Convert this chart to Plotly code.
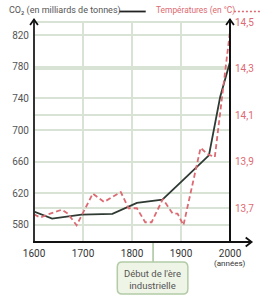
import plotly.graph_objects as go

# ---- data ----
co2_years = [1600, 1637, 1697, 1760, 1810, 1862, 1903, 1957, 1980, 2000]
co2_values = [597, 588, 593, 594, 608, 612, 636, 668, 742, 786]

temp_years = [1600, 1613, 1633, 1657, 1669, 1687, 1720, 1743, 1777, 1793, 1810,
              1827, 1840, 1863, 1883, 1893, 1905, 1940, 1953, 1969, 2000]
temp_values = [13.674, 13.66, 13.677, 13.694, 13.677, 13.627, 13.763, 13.727, 13.77, 13.70, 13.70,
               13.64, 13.64, 13.74, 13.677, 13.677, 13.627, 13.96, 13.934, 13.92, 14.46]

x_ticks = [1600, 1700, 1800, 1900, 2000]
co2_ticks = [580, 620, 660, 700, 740, 780, 820]
temp_ticks = [13.7, 13.9, 14.1, 14.3, 14.5]

co2_label = "CO₂ (en milliards de tonnes)"
temp_label = "Températures (en °C)"
unit_label = "(années)"
box_label = "Début de l'ère<br>industrielle"
event_year = 1843

# ---- layout geometry (pixels) ----
W, H = 273, 300
L, R, T, B = 30, 43, 21, 58
PW, PH = W - L - R, H - T - B


def px(x):
    return (x - L) / PW


def py(y):
    return (H - B - y) / PH


DARK = "#2f3a33"
PINK = "#dc6a72"
GRID = "#d8e3d6"
FONT = "Roboto"

fig = go.Figure()
fig.add_trace(go.Scatter(x=co2_years, y=co2_values, mode="lines",
                         line=dict(color=DARK, width=1.8), yaxis="y", showlegend=False))
fig.add_trace(go.Scatter(x=temp_years, y=temp_values, mode="lines",
                         line=dict(color=PINK, width=1.8, dash="5px,3px"), yaxis="y2", showlegend=False))

fig.update_layout(
    width=W, height=H,
    margin=dict(l=L, r=R, t=T, b=B),
    plot_bgcolor="white", paper_bgcolor="white",
    separators=", ",
    font=dict(family=FONT, size=10, color="#555"),
    xaxis=dict(range=[1600, 2000], tickvals=x_ticks, ticktext=[str(v) for v in x_ticks],
               showgrid=True, gridcolor=GRID, gridwidth=1.5, zeroline=False, showline=False,
               tickfont=dict(size=10, color="#333"), ticks="", ticklabelstandoff=4),
    yaxis=dict(range=[558.5, 837.7], tickvals=co2_ticks, showgrid=True, gridcolor=GRID, gridwidth=1.5,
               zeroline=False, showline=False, ticks="", tickfont=dict(size=10, color="#555"),
               ticklabelstandoff=4),
    yaxis2=dict(range=[13.555, 14.505], tickvals=temp_ticks, tickformat=".1f", overlaying="y", side="right",
                showgrid=True, gridcolor=GRID, gridwidth=1.5, zeroline=False, showline=False, ticks="",
                tickfont=dict(size=10, color=PINK), ticklabelstandoff=4),
)

shapes = []
# axes lines
shapes.append(dict(type="line", xref="paper", yref="paper", x0=px(30), x1=px(30), y0=py(242), y1=py(19),
                   line=dict(color="#333", width=2)))
shapes.append(dict(type="line", xref="paper", yref="paper", x0=px(230), x1=px(230), y0=py(242), y1=py(19),
                   line=dict(color="#111", width=2)))
shapes.append(dict(type="line", xref="paper", yref="paper", x0=px(29), x1=px(251), y0=py(242), y1=py(242),
                   line=dict(color="#111", width=2)))
# arrowheads
for ax in (30, 230):
    shapes.append(dict(type="path", xref="paper", yref="paper",
                       path=f"M {px(ax-4)},{py(25)} L {px(ax)},{py(19.5)} L {px(ax+4)},{py(25)}",
                       line=dict(color="#111", width=1.8)))
shapes.append(dict(type="path", xref="paper", yref="paper",
                   path=f"M {px(246)},{py(237.5)} L {px(252)},{py(242)} L {px(246)},{py(246.5)}",
                   line=dict(color="#111", width=1.8)))
# legend line samples
shapes.append(dict(type="line", xref="paper", yref="paper", x0=px(117), x1=px(144), y0=py(11.5), y1=py(11.5),
                   line=dict(color="#222", width=1.8)))
shapes.append(dict(type="line", xref="paper", yref="paper", x0=px(234), x1=px(262), y0=py(11.5), y1=py(11.5),
                   line=dict(color=PINK, width=1.3, dash="2px,2px")))
# connector
shapes.append(dict(type="line", xref="x", yref="paper", x0=event_year, x1=event_year, y0=py(243), y1=py(262),
                   line=dict(color="#a8c29b", width=1.5)))
# rounded box
x0, x1 = px(115), px(187)
yt, yb = py(262), py(294)
rx, ry = 5 / PW, 5 / PH
path = (f"M {x0+rx},{yt} L {x1-rx},{yt} Q {x1},{yt} {x1},{yt-ry} L {x1},{yb+ry} "
        f"Q {x1},{yb} {x1-rx},{yb} L {x0+rx},{yb} Q {x0},{yb} {x0},{yb+ry} L {x0},{yt-ry} "
        f"Q {x0},{yt} {x0+rx},{yt} Z")
shapes.append(dict(type="path", xref="paper", yref="paper", path=path,
                   fillcolor="#eef4e6", line=dict(color="#b3cba6", width=1.5)))
fig.update_layout(shapes=shapes)

annotations = [
    dict(text=co2_label, xref="paper", yref="paper", x=px(2), y=py(11), xanchor="left", yanchor="middle",
         showarrow=False, font=dict(size=9, color="#555", family=FONT)),
    dict(text=temp_label, xref="paper", yref="paper", x=px(152), y=py(11), xanchor="left", yanchor="middle",
         showarrow=False, font=dict(size=8.4, color=PINK, family=FONT)),
    dict(text=unit_label, xref="paper", yref="paper", x=px(230), y=py(263), xanchor="center", yanchor="middle",
         showarrow=False, font=dict(size=8, color="#333", family=FONT)),
    dict(text=box_label, xref="paper", yref="paper", x=(x0 + x1) / 2, y=py(279), xanchor="center",
         yanchor="middle", showarrow=False, font=dict(size=9.5, color="#555", family=FONT)),
]
fig.update_layout(annotations=annotations)

fig.write_html("out.html")
